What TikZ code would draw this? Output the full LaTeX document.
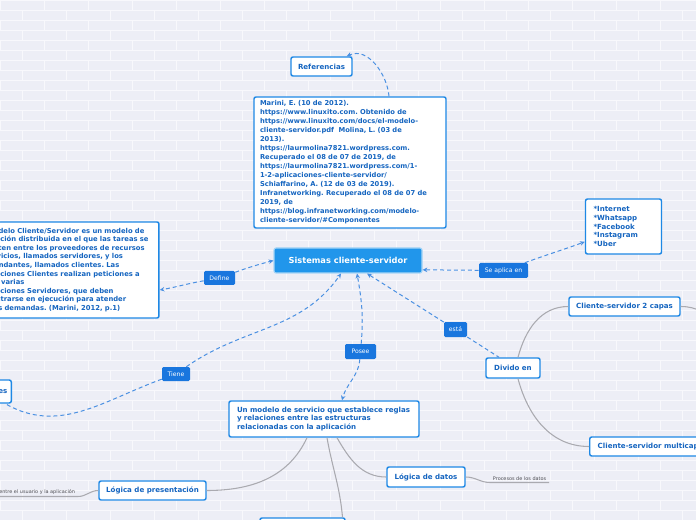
\documentclass[tikz,border=0pt]{standalone}
\usepackage{fontspec}
\setmainfont{DejaVu Sans}
\usetikzlibrary{arrows.meta,positioning,calc}
\frenchspacing
\definecolor{CsBlue}{RGB}{30,136,229}
\definecolor{CsRoot}{RGB}{33,150,235}
\definecolor{CsTag}{RGB}{25,118,222}
\definecolor{CsInk}{RGB}{21,101,192}
\definecolor{CsLink}{RGB}{74,144,226}
\definecolor{CsBranch}{RGB}{170,170,176}
\definecolor{CsNote}{RGB}{80,80,86}
\definecolor{CsPaper}{RGB}{237,238,246}
\definecolor{CsBrick}{RGB}{248,248,252}
\tikzset{
  cs/box/.style={
    draw=CsBlue,
    line width=1.1pt,
    rounded corners=1.5pt,
    fill=white,
    align=center,
    text=CsInk,
    inner sep=0pt,
    font=\fontsize{5.3}{6.5}\selectfont\bfseries
  },
  cs/textbox/.style={
    cs/box,
    align=left,
    inner xsep=6pt,
    inner ysep=0pt
  },
  cs/root/.style={
    draw=white!60!CsRoot,
    line width=0.8pt,
    rounded corners=1.5pt,
    fill=CsRoot,
    text=white,
    minimum width=111pt,
    minimum height=18.75pt,
    font=\fontsize{6.2}{7.5}\selectfont\bfseries
  },
  cs/tag/.style={fill=CsTag, rounded corners=1pt, text=white, inner sep=0pt, font=\fontsize{4.6}{5.5}\selectfont},
  cs/link/.style={draw=CsLink, line width=0.75pt, dash pattern=on 3pt off 2.2pt},
  cs/tip/.style={-{Stealth[length=3.6pt,width=3.4pt]}},
  cs/branch/.style={draw=CsBranch, line width=0.8pt},
  cs/note/.style={text=CsNote, inner xsep=2pt, inner ysep=1.2pt, font=\fontsize{3.7}{4.5}\selectfont},
  cs/brick/.style={draw=CsBrick, line width=0.6pt}
}

\begin{document}
\begin{tikzpicture}[x=0.75pt,y=0.75pt]
  \clip (0,0) rectangle (696,-520);
  % background
  \fill[CsPaper] (0,0) rectangle (696,-520);
  \foreach \row in {0,...,52}{
    \draw[cs/brick] (0,-10*\row) -- (696,-10*\row);
    \pgfmathsetmacro{\brickoff}{mod(\row,2)*22}
    \foreach \col in {0,...,16}
      \draw[cs/brick] (\brickoff+44*\col,-10*\row) -- ++(0,-10);
  }

  % nodes
  \node[cs/root] (root) at (348,-260.5) {Sistemas cliente-servidor};
  \node[cs/box,minimum width=45.75pt,minimum height=14.25pt] (refs) at (321.5,-66.5) {Referencias};
  \node[cs/textbox,text width=135pt,inner xsep=4.5pt,minimum height=98.25pt,font=\fontsize{5.05}{6.75}\selectfont\bfseries] (biblio) at (350,-162.5) {%
    Marini, E. (10 de 2012).\\
    https://www.linuxito.com. Obtenido de\\
    https://www.linuxito.com/docs/el-modelo-\\
    cliente-servidor.pdf\ \ Molina, L. (03 de\\
    2013).\\
    https://laurmolina7821.wordpress.com.\\
    Recuperado el 08 de 07 de 2019, de\\
    https://laurmolina7821.wordpress.com/1-\\
    1-2-aplicaciones-cliente-servidor/\\
    Schiaffarino, A. (12 de 03 de 2019).\\
    Infranetworking. Recuperado el 08 de 07 de\\
    2019, de\\
    https://blog.infranetworking.com/modelo-\\
    cliente-servidor/\#Componentes};
  \node[cs/textbox,text width=130pt,minimum height=72pt,font=\fontsize{5.1}{6.45}\selectfont\bfseries] (defbox) at (64.3,-270) {%
    El modelo Cliente/Servidor es un modelo de\\
    aplicación distribuida en el que las tareas se\\
    reparten entre los proveedores de recursos\\
    o servicios, llamados servidores, y los\\
    demandantes, llamados clientes. Las\\
    aplicaciones Clientes realizan peticiones a\\
    una o varias\\
    aplicaciones Servidores, que deben\\
    encontrarse en ejecución para atender\\
    dichas demandas. (Marini, 2012, p.1)};
  \node[cs/textbox,text width=45pt,minimum height=41.25pt] (usos) at (623.5,-226.5) {*Internet\\{}*Whatsapp\\{}*Facebook\\{}*Instagram\\{}*Uber};
  \node[cs/box,anchor=east,inner xsep=3pt,minimum height=17.25pt] (partes) at (12,-391.5) {Componentes};
  \node[cs/textbox,text width=130.5pt,minimum height=27pt] (modelo) at (324,-419) {%
    Un modelo de servicio que establece reglas\\
    y relaciones entre las estructuras\\
    relacionadas con la aplicación};
  \node[cs/box,minimum width=40.5pt,minimum height=15pt] (divido) at (513,-368) {Divido en};
  \node[cs/box,minimum width=83.25pt,minimum height=14.25pt] (capas2) at (624.5,-306.5) {Cliente-servidor 2 capas};
  \node[cs/box,anchor=west,inner xsep=6pt,minimum height=14.25pt] (multicapa) at (589,-446.5) {Cliente-servidor multicapas};
  \node[cs/box,minimum width=80.25pt,minimum height=14.25pt] (presenta) at (152.5,-490.5) {Lógica de presentación};
  \node[cs/box,minimum width=58.5pt,minimum height=15pt] (datos) at (426,-477) {Lógica de datos};
  \node[cs/box,minimum width=63.75pt,minimum height=18pt] (negocio) at (302.5,-530) {};
  \node[cs/note,anchor=south east] (presnote) at (78,-496.5) {Interacción entre el usuario y la aplicación};
  \node[cs/note,anchor=south west] (datanote) at (490,-482.5) {Procesos de los datos};

  % tags
  \node[cs/tag,minimum width=23.25pt,minimum height=10.5pt] (define) at (219.5,-278) {Define};
  \node[cs/tag,minimum width=36.75pt,minimum height=11.25pt] (seaplica) at (503.5,-270.5) {Se aplica en};
  \node[cs/tag,minimum width=21pt,minimum height=10.5pt] (tiene) at (176,-374) {Tiene};
  \node[cs/tag,minimum width=23.25pt,minimum height=11.25pt] (posee) at (360.5,-351.5) {Posee};
  \node[cs/tag,minimum width=17.25pt,minimum height=11.25pt] (esta) at (455.5,-329.5) {está};
  \coordinate (fuera) at (720,-322);

  % dashed links
  \draw[cs/link,cs/tip] ([xshift=29.25pt]biblio.north) to[out=95,in=25] ([xshift=-4.5pt]refs.north east);
  \draw[cs/link,cs/tip] (define) to[out=20,in=195] (root.west);
  \draw[cs/link,cs/tip] (define) to[out=190,in=10] ([yshift=-15pt]defbox.east);
  \draw[cs/link,cs/tip] (seaplica) -- ([yshift=-7pt]root.east);
  \draw[cs/link,cs/tip] (seaplica) to[out=20,in=200] ([yshift=-11.5pt]usos.west);
  \draw[cs/link,cs/tip] (tiene) to[out=35,in=-125] ([xshift=-5.25pt]root.south);
  \draw[cs/link] (tiene) to[out=200,in=-30] ([xshift=-5pt]partes.south east);
  \draw[cs/link,cs/tip] (posee) to[out=85,in=-80] ([xshift=6.75pt]root.south);
  \draw[cs/link,cs/tip] (posee) to[out=-95,in=75] ([xshift=13.5pt]modelo.north);
  \draw[cs/link,cs/tip] (esta) -- ([xshift=14.25pt]root.south);
  \draw[cs/link] (esta) -- ([xshift=-10.5pt]divido.north);

  % branches
  \draw[cs/branch] ([xshift=3.75pt]divido.north) to[out=75,in=180] (capas2.west);
  \draw[cs/branch] ([xshift=3.75pt]divido.south) to[out=-75,in=180] (multicapa.west);
  \draw[cs/branch] (capas2.east) to[out=0,in=150] (fuera);
  \draw[cs/branch] ([xshift=-12.75pt]modelo.south) to[out=-115,in=0] (presenta.east);
  \draw[cs/branch] ([xshift=2.25pt]modelo.south) to[out=-80,in=95] ([xshift=30pt]negocio.north);
  \draw[cs/branch] ([xshift=9.75pt]modelo.south) to[out=-60,in=180] (datos.west);
  \draw[cs/branch] (presenta.west) to[out=180,in=0] (presnote.south east) -- (presnote.south west);
  \draw[cs/branch] (datos.east) to[out=0,in=180] (datanote.south west) -- (datanote.south east);
\end{tikzpicture}
\end{document}
